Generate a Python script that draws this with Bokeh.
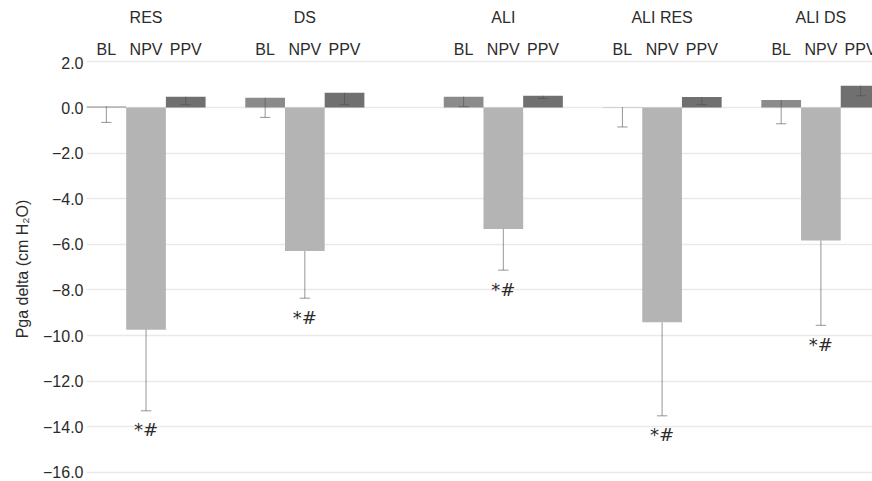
from bokeh.plotting import figure
from bokeh.layouts import column
from bokeh.models import FixedTicker, Range1d, ColumnDataSource
from bokeh.core.properties import value
from bokeh.embed import file_html
from bokeh.resources import INLINE

groups = ["RES", "DS", "ALI", "ALI RES", "ALI DS"]
conditions = ["BL", "NPV", "PPV"]
bl_mean = [0.05, 0.43, 0.48, 0.02, 0.33]
bl_sd = [0.70, 0.86, 0.44, 0.87, 1.04]
npv_mean = [-9.74, -6.29, -5.32, -9.42, -5.83]
npv_sd = [3.56, 2.07, 1.81, 4.10, 3.72]
ppv_mean = [0.48, 0.65, 0.52, 0.46, 0.96]
ppv_sd = [0.35, 0.52, 0.12, 0.33, 0.44]
npv_sig = ["*#", "*#", "*#", "*#", "*#"]
y_ticks = [-16, -14, -12, -10, -8, -6, -4, -2, 0, 2]

colors = {"BL": "#8b8b8b", "NPV": "#b4b4b4", "PPV": "#707070"}
FONT = "Liberation Sans"
TXT = "#2b2b2b"
FS = "16px"

means = {"BL": bl_mean, "NPV": npv_mean, "PPV": ppv_mean}
sds = {"BL": bl_sd, "NPV": npv_sd, "PPV": ppv_sd}

# layout: each group 3 bars + 1 gap; extra gap before the ALI groups
starts = [4 * i + (1 if i >= 2 else 0) for i in range(len(groups))]

xs, tops, cols, lows, conds = [], [], [], [], []
for gi, g in enumerate(groups):
    for ci, c in enumerate(conditions):
        x = starts[gi] + ci + 0.5
        m = means[c][gi]
        xs.append(x)
        tops.append(m)
        cols.append(colors[c])
        lows.append(m - sds[c][gi])
        conds.append(c)
grp_x = [s + 1.5 for s in starts]

src = ColumnDataSource(dict(x=xs, top=tops, color=cols, low=lows,
                            cap0=[v - 0.13 for v in xs], cap1=[v + 0.13 for v in xs]))

W = 872
HEAD_H = 56
MAIN_H = 425
xr = Range1d(0, 19.8)

# ---- header strip with group / condition names ----
head = figure(width=W, height=HEAD_H, output_backend="svg", toolbar_location=None,
              x_axis_location=None, y_axis_location=None, x_range=xr,
              y_range=Range1d(HEAD_H, 0),
              min_border_left=86, min_border_right=0, min_border_top=0, min_border_bottom=0)
head.outline_line_color = None
head.grid.visible = False
head.text(x=grp_x, y=[17] * len(groups), text=groups, text_align="center",
          text_baseline="middle", text_font=value(FONT), text_font_size=FS, text_color=TXT)
head.text(x=xs, y=[48.5] * len(xs), text=conds, text_align="center",
          text_baseline="middle", text_font=value(FONT), text_font_size=FS, text_color=TXT)

# ---- main chart ----
p = figure(width=W, height=MAIN_H, output_backend="svg", toolbar_location=None,
           x_axis_location=None, x_range=xr, y_range=Range1d(-16.40, 2.241),
           min_border_left=86, min_border_right=0, min_border_top=0, min_border_bottom=0)
p.outline_line_color = None
p.background_fill_color = "white"
p.border_fill_color = "white"
for g in p.xgrid:
    g.visible = False

p.ygrid.ticker = FixedTicker(ticks=y_ticks)
p.ygrid.grid_line_color = "#e9e9e9"
p.ygrid.grid_line_width = 1.5

p.vbar(x="x", top="top", bottom=0, width=1.0, fill_color="color", line_color=None, source=src)
p.segment(x0="x", y0="top", x1="x", y1="low", line_color="#505050", line_alpha=0.6,
          line_width=1, source=src)
p.segment(x0="cap0", y0="low", x1="cap1", y1="low", line_color="#505050", line_alpha=0.6,
          line_width=1, source=src)

# significance markers below NPV whiskers
sig_y = [npv_mean[i] - npv_sd[i] for i in range(len(groups))]
p.text(x=grp_x, y=sig_y, text=npv_sig, text_align="center", text_baseline="middle",
       y_offset=19, text_font=value("DejaVu Sans"), text_font_size="18px",
       text_font_style="italic", text_color=TXT)

# y axis
ax = p.yaxis[0]
ax.ticker = FixedTicker(ticks=y_ticks)
ax.major_label_overrides = {t: ("%.1f" % t).replace("-", "\u2212") for t in y_ticks}
ax.axis_line_color = None
ax.major_tick_line_color = None
ax.minor_tick_line_color = None
ax.major_tick_out = 0
ax.major_label_standoff = 3
ax.major_label_text_font = FONT
ax.major_label_text_font_size = FS
ax.major_label_text_color = TXT
ax.axis_label = "Pga delta (cm H\u2082O)"
ax.axis_label_text_font = FONT
ax.axis_label_text_font_size = FS
ax.axis_label_text_font_style = "normal"
ax.axis_label_text_color = TXT
ax.axis_label_standoff = 9

layout = column(head, p, spacing=0)
open("out.html", "w").write(file_html(layout, INLINE))
